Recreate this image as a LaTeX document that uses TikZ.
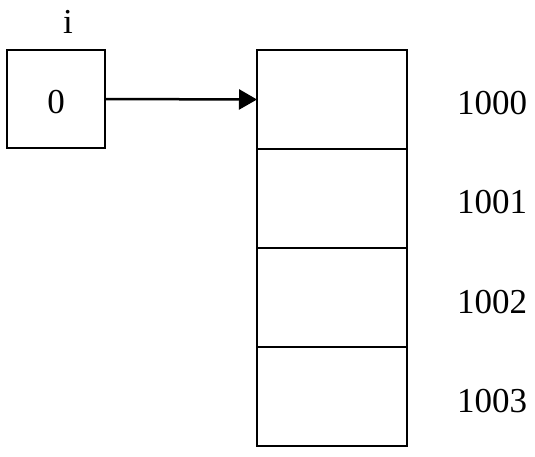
\documentclass[tikz,border=0pt]{standalone}
\usepackage{fontspec}
\setmainfont{Liberation Serif}
\usetikzlibrary{arrows.meta}
\begin{document}
\begin{tikzpicture}[x=1pt,y=-1pt,line width=2.5pt,
  cell/.style={draw,rectangle,inner sep=0pt,outer sep=0pt,minimum width=150pt,minimum height=99pt},
  lbl/.style={anchor=base,font=\fontsize{35}{42}\selectfont}]
\useasboundingbox (0,0) rectangle (535,456);
\node[draw,rectangle,inner sep=0pt,outer sep=0pt,minimum width=98pt,minimum height=98pt] (var) at (56,99) {};
\node[lbl] (vname) at (68,33) {i};
\node[lbl] (vval) at (56,113) {0};
\node[cell] (m0) at (332,99.5) {};
\node[cell] (m1) at (332,198.5) {};
\node[cell] (m2) at (332,297.5) {};
\node[cell] (m3) at (332,396.5) {};
\node[lbl] (a0) at (492,114) {1000};
\node[lbl] (a1) at (492,213) {1001};
\node[lbl] (a2) at (492,313) {1002};
\node[lbl] (a3) at (492,412) {1003};
\draw[-{Triangle[length=18pt,width=20pt]}] (var.east) -- (m0.west);
\end{tikzpicture}
\end{document}
